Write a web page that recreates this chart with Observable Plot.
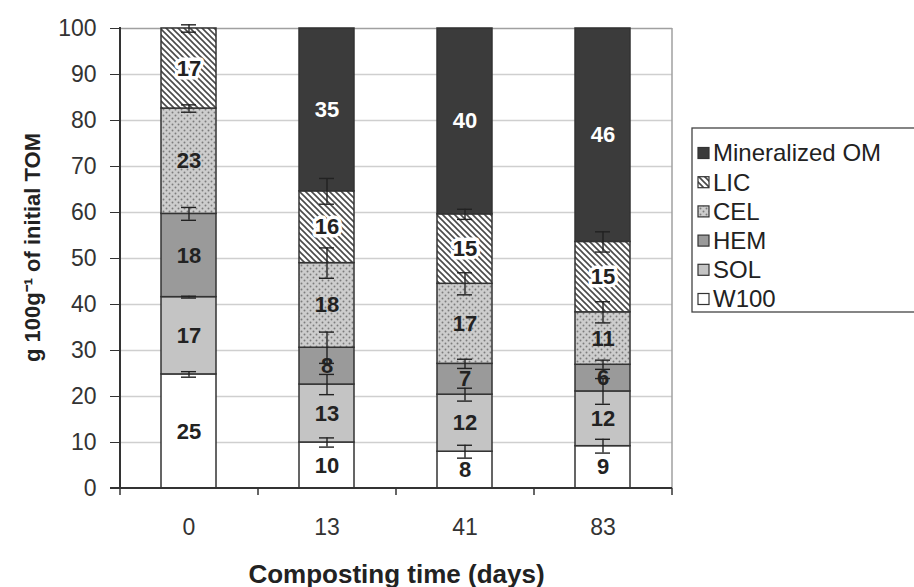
<!DOCTYPE html>
<html>
<head>
<meta charset="utf-8">
<script src="https://cdn.jsdelivr.net/npm/d3@7"></script>
<script src="https://cdn.jsdelivr.net/npm/@observablehq/plot@0.6"></script>
<style>
  html, body { margin: 0; padding: 0; background: white; overflow: hidden; }
</style>
</head>
<body>
<div id="chart"></div>
<script>
// ---- data ----
const days = ["0", "13", "41", "83"];
const components = ["W100", "SOL", "HEM", "CEL", "LIC", "Mineralized OM"]; // bottom -> top
const w100 = [24.8, 10.0, 8.0, 9.2];
const sol  = [16.8, 12.6, 12.4, 11.9];
const hem  = [18.1, 8.0, 6.7, 5.8];
const cel  = [22.9, 18.4, 17.4, 11.4];
const lic  = [17.4, 15.6, 15.1, 15.3];
const minOM = [0, 35.4, 40.4, 46.4];
// error (± half range) at the top of each segment
const errW100 = [0.6, 1.0, 1.4, 1.5];
const errSol  = [0.2, 2.2, 1.4, 2.8];
const errHem  = [1.4, 3.4, 1.0, 1.0];
const errCel  = [0.8, 3.3, 2.4, 2.3];
const errLic  = [0.8, 2.8, 1.1, 2.2];
const errMin  = [0, 0, 0, 0];
const yTicks = [0, 10, 20, 30, 40, 50, 60, 70, 80, 90, 100];
const xTitle = "Composting time (days)";
const yTitle = "g 100g\u207B\u00B9 of initial TOM";

// ---- styles ----
const fills = ["#ffffff", "#c4c4c4", "#9a9a9a", "url(#pat-cel)", "url(#pat-lic)", "#3b3b3b"];
const FONT = "'Liberation Sans', Arial, Helvetica, sans-serif";

const series = [w100, sol, hem, cel, lic, minOM];
const errs = [errW100, errSol, errHem, errCel, errLic, errMin];
const rows = [];
days.forEach((day, i) => {
  let cum = 0;
  components.forEach((comp, j) => {
    const v = series[j][i];
    rows.push({day, comp, value: v, lo: cum, hi: cum + v, mid: cum + v / 2, err: errs[j][i]});
    cum += v;
  });
});
const labelRows = rows.filter(d => d.value > 0);
const errRows = rows.filter(d => d.err > 0).map(d => ({day: d.day, y1: d.hi - d.err, y2: d.hi + d.err}));

function defs() {
  const g = d3.create("svg:g");
  const df = g.append("defs");
  const lp = df.append("pattern").attr("id", "pat-lic").attr("patternUnits", "userSpaceOnUse")
    .attr("width", 6).attr("height", 6);
  lp.append("rect").attr("width", 6).attr("height", 6).attr("fill", "#fff");
  lp.append("path").attr("d", "M-1,-1L7,7M-1,5L1,7M5,-1L7,1")
    .attr("stroke", "#4a4a4a").attr("stroke-width", 1.6);
  const cp = df.append("pattern").attr("id", "pat-cel").attr("patternUnits", "userSpaceOnUse")
    .attr("width", 6).attr("height", 6);
  cp.append("rect").attr("width", 6).attr("height", 6).attr("fill", "#cdcdcd");
  cp.append("circle").attr("cx", 1.5).attr("cy", 1.5).attr("r", 0.95).attr("fill", "#7c7c7c");
  cp.append("circle").attr("cx", 4.5).attr("cy", 4.5).attr("r", 0.95).attr("fill", "#7c7c7c");
  return g.node();
}

function frameLines(index, scales, values, dim) {
  const g = d3.create("svg:g");
  const L = dim.marginLeft, R = dim.width - dim.marginRight;
  const T = dim.marginTop, B = dim.height - dim.marginBottom;
  g.append("line").attr("x1", R).attr("x2", R).attr("y1", T).attr("y2", B)
    .attr("stroke", "#a0a0a0").attr("stroke-width", 1.5);
  g.append("line").attr("x1", L).attr("x2", L).attr("y1", T - 1).attr("y2", B + 1)
    .attr("stroke", "#333").attr("stroke-width", 2);
  g.append("line").attr("x1", L - 10).attr("x2", R).attr("y1", B).attr("y2", B)
    .attr("stroke", "#333").attr("stroke-width", 2);
  const n = days.length, step = (R - L) / n;
  for (let i = 0; i <= n; i++) {
    g.append("line").attr("x1", L + i * step).attr("x2", L + i * step)
      .attr("y1", B).attr("y2", B + 7).attr("stroke", "#333").attr("stroke-width", 1.5);
  }
  return g.node();
}

function legend(index, scales, values, dim) {
  const g = d3.create("svg:g").attr("text-anchor", "start");
  const x0 = dim.width - dim.marginRight + 20;
  const y0 = 128;
  const gap = 29.2;
  g.append("rect").attr("x", x0).attr("y", y0).attr("width", 260).attr("height", 184)
    .attr("fill", "white").attr("stroke", "#444").attr("stroke-width", 1.3);
  const items = components.slice().reverse();
  items.forEach((c, i) => {
    const cy = y0 + 25 + i * gap;
    g.append("rect").attr("x", x0 + 6).attr("y", cy - 5.5).attr("width", 11).attr("height", 11)
      .attr("fill", scales.color ? scales.color(c) : fills[components.indexOf(c)])
      .attr("stroke", "#333").attr("stroke-width", 1.2);
    g.append("text").attr("x", x0 + 21).attr("y", cy).attr("dy", "0.35em")
      .attr("text-anchor", "start")
      .attr("font-size", 24).attr("fill", "#222").attr("font-family", FONT).text(c);
  });
  return g.node();
}

const chart = Plot.plot({
  width: 914,
  height: 587,
  marginLeft: 120,
  marginRight: 242,
  marginTop: 28,
  marginBottom: 99,
  style: {fontFamily: FONT, fontSize: "23px", color: "#333", background: "white", overflow: "visible"},
  x: {domain: days, paddingInner: 0.6, paddingOuter: 0.3, tickSize: 0, tickPadding: 30, label: null},
  y: {domain: [0, 100], ticks: yTicks, tickSize: 10, tickPadding: 14, label: null},
  color: {domain: components, range: fills},
  marks: [
    defs,
    Plot.ruleY(yTicks.filter(t => t > 0 && t < 100), {stroke: "#cfcfcf", strokeWidth: 1.5}),
    Plot.ruleY([100], {stroke: "#a0a0a0", strokeWidth: 1.5}),
    Plot.barY(rows.filter(d => d.value > 0), {x: "day", y1: "lo", y2: "hi", fill: "comp", stroke: "#333", strokeWidth: 1.5}),
    Plot.text(labelRows.filter(d => d.comp === "LIC"), {x: "day", y: "mid", text: d => Math.round(d.value),
      fill: "#222", stroke: "white", strokeWidth: 7, fontWeight: "bold", fontSize: 22, lineAnchor: "middle"}),
    Plot.text(labelRows.filter(d => d.comp !== "LIC" && d.comp !== "Mineralized OM"), {x: "day", y: "mid", text: d => Math.round(d.value),
      fill: "#222", fontWeight: "bold", fontSize: 22, lineAnchor: "middle"}),
    Plot.text(labelRows.filter(d => d.comp === "Mineralized OM"), {x: "day", y: "mid", text: d => Math.round(d.value),
      fill: "white", fontWeight: "bold", fontSize: 22, lineAnchor: "middle"}),
    Plot.ruleX(errRows, {x: "day", y1: "y1", y2: "y2", stroke: "#222", strokeWidth: 1.4}),
    Plot.tickY(errRows, {x: "day", y: "y1", stroke: "#222", strokeWidth: 1.4, insetLeft: 20, insetRight: 20}),
    Plot.tickY(errRows, {x: "day", y: "y2", stroke: "#222", strokeWidth: 1.4, insetLeft: 20, insetRight: 20}),
    frameLines,
    Plot.text([xTitle], {frameAnchor: "bottom", dy: 86, fontWeight: "bold", fontSize: 26, fill: "#222", textAnchor: "middle", lineAnchor: "middle"}),
    Plot.text([yTitle], {frameAnchor: "left", dx: -88, dy: -11, rotate: -90, fontWeight: "bold", fontSize: 22, fill: "#222", textAnchor: "middle", lineAnchor: "middle"}),
    legend
  ]
});
document.getElementById("chart").appendChild(chart);
</script>
</body>
</html>
